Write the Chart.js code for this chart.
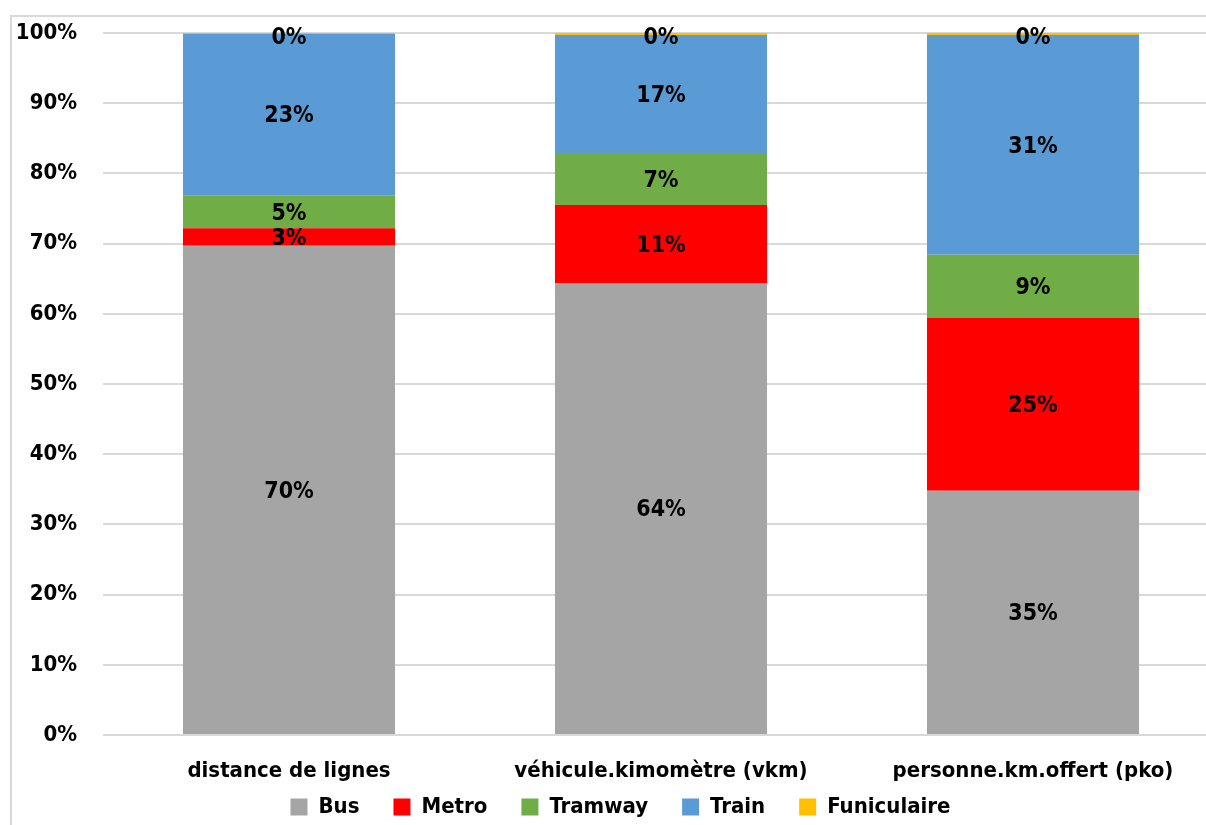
<!DOCTYPE html>
<html lang="fr">
<head>
    <meta charset="UTF-8">
    <title>Répartition par mode</title>
    <script src="https://cdn.jsdelivr.net/npm/chart.js"></script>
    <style>
        body {
            margin: 0;
            overflow: hidden;
            background: #fff;
        }
        #frame {
            position: absolute;
            left: 10px;
            top: 15px;
            width: 1300px;
            height: 900px;
            border-left: 2px solid #d9d9d9;
            border-top: 2px solid #d9d9d9;
        }
        #modesChart {
            position: absolute;
            left: 0;
            top: 0;
        }
    </style>
</head>
<body>
    <div id="frame"></div>
    <canvas id="modesChart" width="1222" height="825"></canvas>

    <script>
        const categories = ['distance de lignes', 'véhicule.kimomètre (vkm)', 'personne.km.offert (pko)'];
        const bus = [69.7, 64.4, 34.8];
        const metro = [2.5, 11.1, 24.6];
        const tramway = [4.7, 7.4, 9.0];
        const train = [23.0, 16.8, 31.3];
        const funiculaire = [0.1, 0.3, 0.3];

        const FONT = "'DejaVu Sans Condensed', 'DejaVu Sans', sans-serif";

        // draw the rounded percentage in the middle of each segment
        const segmentLabels = {
            id: 'segmentLabels',
            afterDatasetsDraw(chart) {
                const ctx = chart.ctx;
                const top = chart.chartArea.top;
                ctx.save();
                ctx.font = 'bold 23px ' + FONT;
                ctx.fillStyle = '#000';
                ctx.textAlign = 'center';
                ctx.textBaseline = 'middle';
                chart.data.datasets.forEach((ds, i) => {
                    const meta = chart.getDatasetMeta(i);
                    meta.data.forEach((bar, j) => {
                        // keep labels of very thin top segments from poking above the plot
                        const y = Math.max((bar.y + bar.base) / 2, top + 3);
                        ctx.fillText(Math.round(ds.data[j]) + '%', bar.x, y + 2);
                    });
                });
                ctx.restore();
            }
        };

        // axis boxes are kept tight for the layout; widen them afterwards so their labels are not clipped
        const looseAxes = {
            id: 'looseAxes',
            afterLayout(chart) {
                chart.scales.y.left = 0;
                chart.scales.x.bottom = chart.height;
            }
        };

        const ctx = document.getElementById('modesChart').getContext('2d');
        new Chart(ctx, {
            type: 'bar',
            data: {
                labels: categories,
                datasets: [
                    { label: 'Bus', data: bus, backgroundColor: '#a5a5a5' },
                    { label: 'Metro', data: metro, backgroundColor: '#ff0000' },
                    { label: 'Tramway', data: tramway, backgroundColor: '#70ad47' },
                    { label: 'Train', data: train, backgroundColor: '#5b9bd5' },
                    { label: 'Funiculaire', data: funiculaire, backgroundColor: '#ffc000' }
                ]
            },
            options: {
                responsive: false,
                animation: false,
                layout: {
                    padding: { top: 33, right: 3, left: 22, bottom: -3 }
                },
                datasets: {
                    bar: { categoryPercentage: 1, barPercentage: 0.57 }
                },
                scales: {
                    x: {
                        stacked: true,
                        grid: { display: false, drawTicks: false },
                        border: { display: false },
                        ticks: {
                            padding: 23,
                            color: '#000',
                            font: { family: FONT, size: 22, weight: 'bold' }
                        },
                        afterFit: s => { s.height = 27; }
                    },
                    y: {
                        stacked: true,
                        min: 0,
                        max: 100,
                        grid: { color: '#d9d9d9', lineWidth: 2, drawTicks: false },
                        border: { display: false },
                        ticks: {
                            stepSize: 10,
                            padding: 26,
                            color: '#000',
                            font: { family: FONT, size: 22, weight: 'bold' },
                            callback: v => v + '%'
                        },
                        afterFit: s => {
                            s.width = 81;
                            s.paddingTop = 0;
                            s.paddingBottom = 0;
                        }
                    }
                },
                plugins: {
                    tooltip: { enabled: false },
                    legend: {
                        position: 'bottom',
                        labels: {
                            boxWidth: 17,
                            boxHeight: 17,
                            padding: 34,
                            color: '#000',
                            font: { family: FONT, size: 22, weight: 'bold' }
                        }
                    }
                }
            },
            plugins: [segmentLabels, looseAxes]
        });
    </script>
</body>
</html>
